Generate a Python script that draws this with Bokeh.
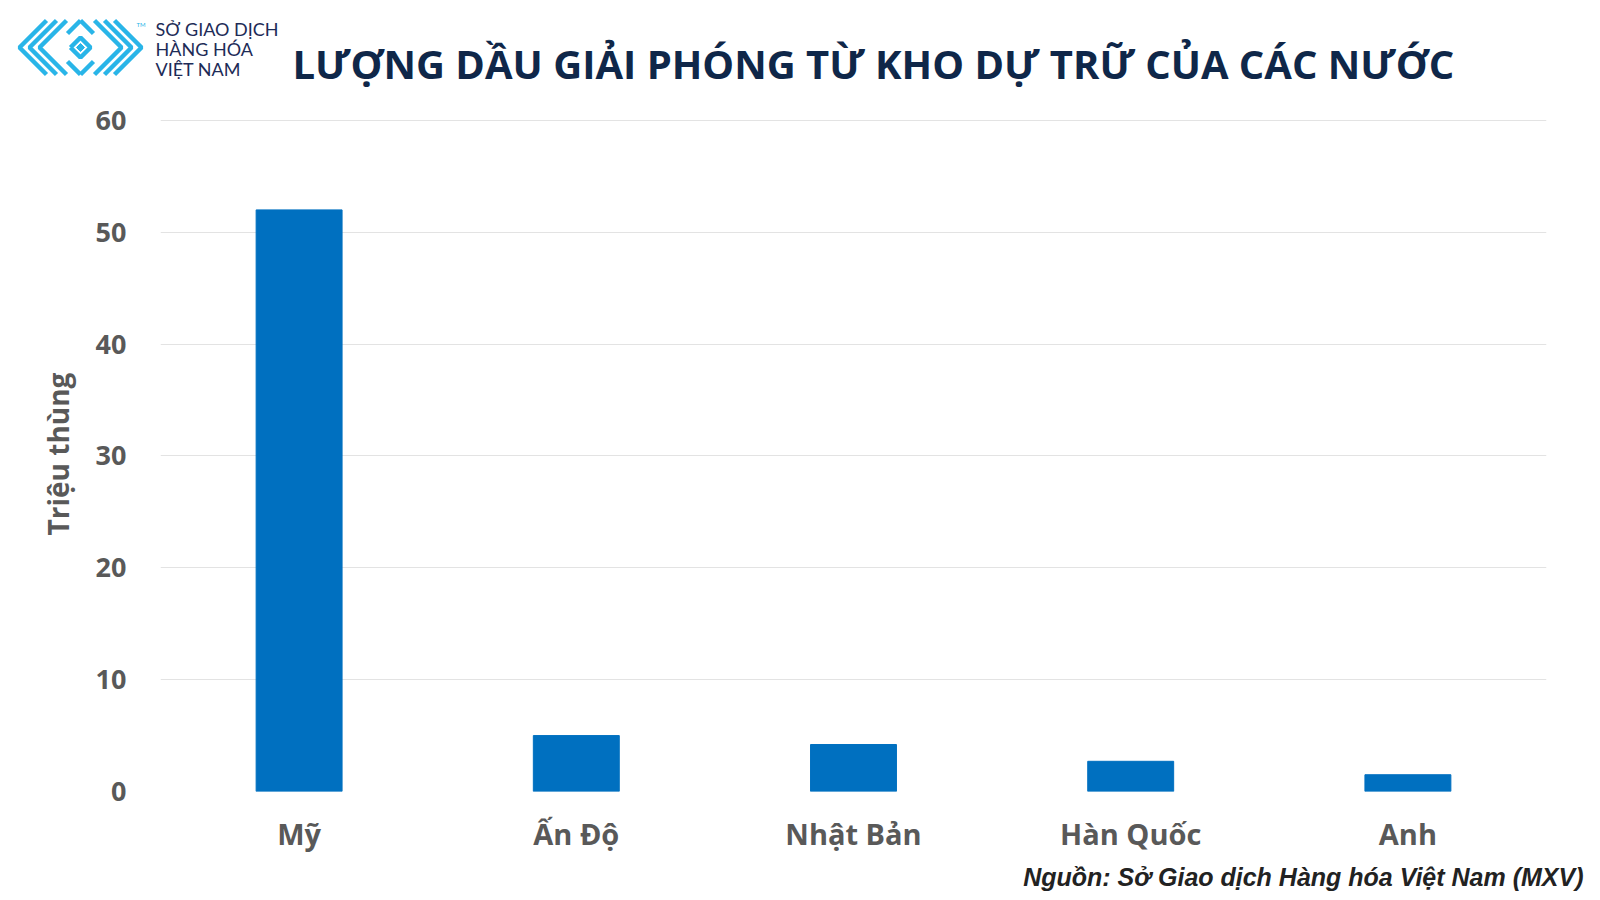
from bokeh.plotting import figure
from bokeh.layouts import column, row
from bokeh.models import FactorRange, Range1d, FixedTicker, ColumnDataSource
from bokeh.core.properties import value
from bokeh.embed import file_html
from bokeh.resources import INLINE

# ---- data ----
countries = ["Mỹ", "Ấn Độ", "Nhật Bản", "Hàn Quốc", "Anh"]
values = [52, 5, 4.2, 2.7, 1.5]
y_ticks = [0, 10, 20, 30, 40, 50, 60]

title_text = "LƯỢNG DẦU GIẢI PHÓNG TỪ KHO DỰ TRỮ CỦA CÁC NƯỚC"
y_label = "Triệu thùng"
source_text = "Nguồn: Sở Giao dịch Hàng hóa Việt Nam (MXV)"
logo_lines = ["SỞ GIAO DỊCH", "HÀNG HÓA", "VIỆT NAM"]

W = 1592
H_HEAD, H_MAIN, H_FOOT = 100, 760, 32


def blank(h):
    f = figure(width=W, height=h, x_range=Range1d(0, W), y_range=Range1d(h, 0),
               x_axis_type=None, y_axis_type=None, output_backend="svg", toolbar_location=None,
               min_border=0, min_border_left=0, min_border_right=0, min_border_top=0, min_border_bottom=0)
    f.outline_line_color = None
    f.xgrid.visible = False
    f.ygrid.visible = False
    f.background_fill_color = "white"
    f.border_fill_color = "white"
    return f


# ---- header: logo + title ----
head = blank(H_HEAD)
head.text(x=[292], y=[63], text=[title_text], text_font=value("Open Sans"), text_font_style="bold",
          text_font_size="40px", text_color="#0f2749", text_baseline="middle", text_align="left")
head.text(x=[155, 155, 155], y=[28, 48, 68], text=logo_lines, text_font=value("Lato"),
          text_font_size="18px", text_color="#1d2b57", text_baseline="middle", text_align="left")
head.text(x=[136], y=[24], text=["TM"], text_font=value("Lato"), text_font_size="6px",
          text_color="#29b5e8", text_baseline="middle", text_align="left")

# logo decoration: nested chevrons and a centre diamond (header pixel space)
logo_paths = []
for i in range(3):
    t = 19 + 10 * i
    logo_paths.append([(t + 27, 20), (t, 47), (t + 27, 74)])
    t2 = 141 - 10 * i
    logo_paths.append([(t2 - 27, 20), (t2, 47), (t2 - 27, 74)])
logo_paths += [
    [(80, 20), (67, 33)],
    [(80, 20), (93, 33)],
    [(80, 74), (67, 61)],
    [(80, 74), (93, 61)],
    [(70, 47), (80, 37), (90, 47), (80, 57), (70, 47)],
]
head.multi_line(xs=[[a for a, b in pth] for pth in logo_paths],
                ys=[[b for a, b in pth] for pth in logo_paths],
                line_color="#29b5e8", line_width=4.5)
head.patch(x=[76, 80, 84, 80], y=[47, 43, 47, 51], color="#29b5e8")

# ---- main bar chart ----
p = figure(width=W, height=H_MAIN, x_range=FactorRange(*countries), y_range=Range1d(0, 60.35),
           output_backend="svg", toolbar_location=None,
           min_border_left=160, min_border_right=46, min_border_top=16, min_border_bottom=69)
p.outline_line_color = None
p.background_fill_color = "white"
p.border_fill_color = "white"

src = ColumnDataSource(dict(x=countries, top=values))
p.vbar(x="x", top="top", width=0.31, source=src, color="#0070c0")

p.xgrid.grid_line_color = None
p.ygrid.grid_line_color = "#e3e3e3"
p.ygrid.grid_line_width = 1

p.yaxis.ticker = FixedTicker(ticks=y_ticks)
for ax in (p.xaxis, p.yaxis):
    ax.axis_line_color = None
    ax.major_tick_line_color = None
    ax.minor_tick_line_color = None
    ax.major_label_text_font = "Open Sans"
    ax.major_label_text_font_style = "bold"
    ax.major_label_text_color = "#595959"
p.yaxis.major_label_text_font_size = "27px"
p.yaxis.major_label_standoff = 28
p.xaxis.major_label_text_font_size = "29px"
p.xaxis.major_label_standoff = 16
p.yaxis.axis_label = y_label
p.yaxis.axis_label_text_font = "Open Sans"
p.yaxis.axis_label_text_font_style = "bold"
p.yaxis.axis_label_text_font_size = "28px"
p.yaxis.axis_label_text_color = "#595959"
p.yaxis.axis_label_standoff = 16

# ---- footer: source ----
foot = blank(H_FOOT)
foot.text(x=[1583], y=[16], text=[source_text], text_font=value("Liberation Sans"),
          text_font_style="bold italic", text_font_size="25px", text_color="#222222",
          text_baseline="middle", text_align="right")

layout = column(row(head), p, row(foot), spacing=0)
open("out.html", "w").write(file_html(layout, INLINE))
